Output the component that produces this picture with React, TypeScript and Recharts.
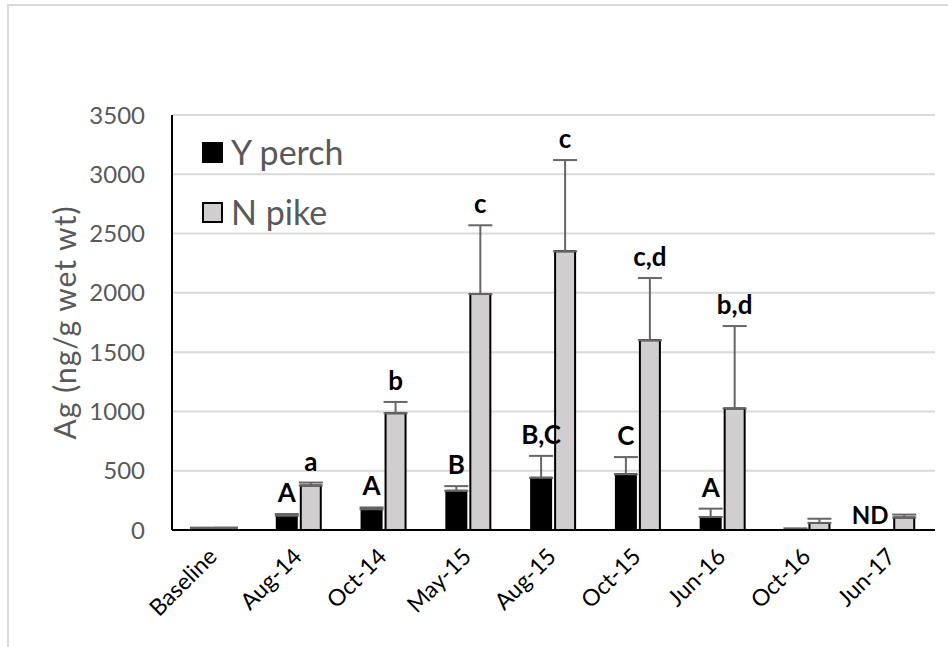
import React from 'react';
import {
    BarChart, Bar, XAxis, YAxis, CartesianGrid, Legend, ErrorBar, LabelList
} from 'recharts';

const categories = ['Baseline', 'Aug-14', 'Oct-14', 'May-15', 'Aug-15', 'Oct-15', 'Jun-16', 'Oct-16', 'Jun-17'];
const perch = [12, 120, 175, 330, 440, 470, 110, 4, 0];
const perchErr = [8, 15, 15, 40, 185, 145, 70, 10, null];
const pike = [15, 375, 985, 1990, 2350, 1600, 1025, 60, 105];
const pikeErr = [6, 25, 95, 580, 770, 525, 695, 35, 25];
const perchLetters = ['', 'A', 'A', 'B', 'B,C', 'C', 'A', '', ''];
const pikeLetters = ['', 'a', 'b', 'c', 'c', 'c,d', 'b,d', '', ''];
// perch not detected
const perchNotes = ['', '', '', '', '', '', '', '', 'ND'];
const yTicks = [0, 500, 1000, 1500, 2000, 2500, 3000, 3500];
const seriesOrder = ['Y perch', 'N pike'];

const data = categories.map((name, i) => ({
    name,
    perch: perch[i],
    perchErr: perchErr[i] == null ? null : [0, perchErr[i]],
    pike: pike[i],
    pikeErr: [0, pikeErr[i]],
}));

const FONT = 'Lato, "Open Sans", sans-serif';
const GREY = '#595959';

const boxOf = (props: any) => {
    const vb = props.viewBox || {};
    return {
        x: props.x ?? vb.x,
        y: props.y ?? vb.y,
        w: props.width ?? vb.width,
        h: props.height ?? vb.height,
    };
};

// letter goes above the error bar cap; px-per-unit taken from the bar itself
const letterLabel = (vals: number[], errs: (number | null)[], letters: string[]) => (props: any) => {
    const { x, y, w, h } = boxOf(props);
    const i = props.index;
    const txt = letters[i];
    if (!txt) return null;
    const v = vals[i];
    const e = errs[i] || 0;
    const top = v > 0 ? y - (h / v) * e : y;
    return (
        <text x={x + w / 2} y={top - 12} textAnchor="middle" fontFamily={FONT}
            fontWeight={700} fontSize={26} fill="#000">{txt}</text>
    );
};

// "ND" sits where the (empty) perch bar would be, left of the pike bar
const noteLabel = (props: any) => {
    const { x, y, w, h } = boxOf(props);
    const txt = perchNotes[props.index];
    if (!txt) return null;
    return (
        <text x={x - w / 2 - 14} y={y + h - 6} textAnchor="middle" fontFamily={FONT}
            fontWeight={700} fontSize={24} fill="#000">{txt}</text>
    );
};

const XTick = ({ x, y, payload }: any) => (
    <text transform={`translate(${x + 4},${y + 26}) rotate(-45)`} textAnchor="end"
        fontFamily={FONT} fontSize={23} fill="#000">{payload.value}</text>
);

const YLabel = ({ viewBox }: any) => {
    const cx = 64;
    const cy = viewBox.y + viewBox.height / 2;
    return (
        <text transform={`translate(${cx},${cy}) rotate(-90)`} textAnchor="middle"
            dominantBaseline="central" fontFamily={FONT} fontSize={30} letterSpacing={1}
            fill={GREY}>
            Ag (ng/g wet wt)
        </text>
    );
};

const LegendBox = ({ payload }: any) => {
    const items = [...(payload || [])].sort(
        (a: any, b: any) => seriesOrder.indexOf(a.value) - seriesOrder.indexOf(b.value)
    );
    return (
        <div style={{ fontFamily: FONT, fontSize: 34, color: GREY, lineHeight: '60px' }}>
            {items.map((p: any) => (
                <div key={p.value} style={{ display: 'flex', alignItems: 'center' }}>
                    <span style={{
                        display: 'inline-block', width: 21, height: 21, boxSizing: 'border-box',
                        background: p.payload.fill, border: '2px solid #000', marginRight: 8,
                    }} />
                    {p.value}
                </div>
            ))}
        </div>
    );
};

const App = () => {
    return (
        <div style={{ position: 'absolute', left: 0, top: 0, width: 948, height: 647, overflow: 'hidden', background: '#fff' }}>
            <div style={{
                position: 'absolute', left: 7, top: 4, width: 1000, height: 800,
                border: '2px solid #d9d9d9',
            }} />
            <BarChart
                width={948}
                height={647}
                data={data}
                barSize={20}
                barGap={4}
                margin={{ top: 115, right: 13, left: 0, bottom: 17 }}
                style={{ position: 'absolute', left: 0, top: 0 }}
            >
                <CartesianGrid vertical={false} stroke="#d9d9d9" strokeWidth={2} />
                <XAxis dataKey="name" height={100} tick={<XTick />} tickLine={false}
                    tickSize={0} interval={0} axisLine={{ stroke: '#000', strokeWidth: 2 }} />
                <XAxis xAxisId="top" orientation="top" dataKey="name" height={0} tick={false}
                    tickLine={false} axisLine={{ stroke: '#000', strokeWidth: 2 }} />
                <YAxis width={172} domain={[0, 3500]} ticks={yTicks} interval={0}
                    tickLine={false} tickSize={0} tickMargin={27}
                    tick={{ fontFamily: FONT, fontSize: 24, fill: GREY }}
                    axisLine={{ stroke: '#000', strokeWidth: 2 }}
                    label={<YLabel />} />
                <YAxis yAxisId="right" orientation="right" width={0} tick={false}
                    tickLine={false} axisLine={{ stroke: '#000', strokeWidth: 2 }} />
                <Legend layout="vertical" align="center" verticalAlign="middle"
                    wrapperStyle={{ left: 202, top: 122, width: 220, height: 120 }}
                    content={<LegendBox />} />
                <Bar dataKey="perch" name="Y perch" fill="#000" stroke="#000" strokeWidth={2}
                    isAnimationActive={false}>
                    <ErrorBar dataKey="perchErr" width={12} stroke="#666" strokeWidth={2} />
                    <LabelList dataKey="perch" content={letterLabel(perch, perchErr, perchLetters)} />
                </Bar>
                <Bar dataKey="pike" name="N pike" fill="#d0cece" stroke="#000" strokeWidth={2}
                    isAnimationActive={false}>
                    <ErrorBar dataKey="pikeErr" width={12} stroke="#666" strokeWidth={2} />
                    <LabelList dataKey="pike" content={letterLabel(pike, pikeErr, pikeLetters)} />
                    <LabelList dataKey="pike" content={noteLabel} />
                </Bar>
            </BarChart>
        </div>
    );
};

export default App;
